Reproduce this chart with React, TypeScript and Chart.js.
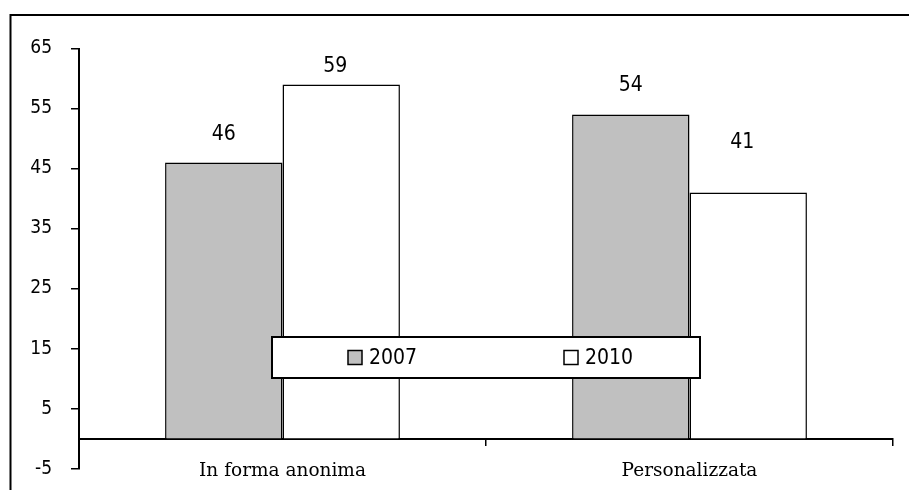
import React, { useEffect, useRef } from "react";
import { Chart, registerables } from "chart.js";

Chart.register(...registerables);

const categories = ["In forma anonima", "Personalizzata"];
const seriesNames = ["2007", "2010"];
const values2007 = [46, 54];
const values2010 = [59, 41];
const yTicks = [-5, 5, 15, 25, 35, 45, 55, 65];

const seriesFill = ["#C0C0C0", "#FFFFFF"];
const NUM_FONT = '"DejaVu Sans Condensed", "Liberation Sans Narrow", sans-serif';
const CAT_FONT = '"DejaVu Serif", serif';
// per-bar label shift [dataset][category] = [dx, lift above bar top]
const labelShift = [
  [[0, 28], [0, 29]],
  [[-6, 18], [-6, 50]],
];

const framePlugin = {
  id: "frame",
  beforeDraw(chart: any) {
    const { ctx, width, height } = chart;
    ctx.save();
    ctx.fillStyle = "#FFFFFF";
    ctx.fillRect(0, 0, width, height);
    ctx.restore();
  },
  afterDraw(chart: any) {
    const { ctx } = chart;
    ctx.save();
    ctx.strokeStyle = "#000000";
    ctx.lineWidth = 2;
    ctx.strokeRect(10.5, 15, 3000, 3000);
    ctx.restore();
  },
};

const valueLabelPlugin = {
  id: "valueLabels",
  afterDatasetsDraw(chart: any) {
    const { ctx } = chart;
    ctx.save();
    ctx.font = `21px ${NUM_FONT}`;
    ctx.fillStyle = "#000000";
    ctx.textAlign = "center";
    ctx.textBaseline = "middle";
    chart.data.datasets.forEach((ds: any, di: number) => {
      const meta = chart.getDatasetMeta(di);
      meta.data.forEach((el: any, i: number) => {
        const [dx, lift] = labelShift[di][i];
        ctx.fillText(String(ds.data[i]), el.x + dx, el.y - lift);
      });
    });
    ctx.restore();
  },
};

const legendBoxPlugin = {
  id: "legendBox",
  afterDraw(chart: any) {
    const { ctx, chartArea } = chart;
    const bx = chartArea.left + 193;
    const by = 337;
    const bw = 428;
    const bh = 41;
    ctx.save();
    ctx.fillStyle = "#FFFFFF";
    ctx.fillRect(bx, by, bw, bh);
    ctx.strokeStyle = "#000000";
    ctx.lineWidth = 2;
    ctx.strokeRect(bx, by, bw, bh);
    const itemX = [bx + 76, bx + 292];
    const cy = by + bh / 2;
    ctx.font = `21px ${NUM_FONT}`;
    ctx.textAlign = "left";
    ctx.textBaseline = "middle";
    seriesNames.forEach((name, i) => {
      ctx.fillStyle = seriesFill[i];
      ctx.fillRect(itemX[i], cy - 7, 14, 14);
      ctx.lineWidth = 1.5;
      ctx.strokeStyle = "#000000";
      ctx.strokeRect(itemX[i], cy - 7, 14, 14);
      ctx.fillStyle = "#000000";
      ctx.fillText(name, itemX[i] + 21, cy + 1);
    });
    ctx.restore();
  },
};

const CANVAS_W = 909;
const CANVAS_H = 499;

export default function App() {
  const canvasRef = useRef<HTMLCanvasElement | null>(null);

  useEffect(() => {
    const canvas = canvasRef.current;
    if (!canvas) return;
    const chart = new Chart(canvas, {
      type: "bar",
      data: {
        labels: categories,
        datasets: [
          {
            label: seriesNames[0],
            data: values2007,
            backgroundColor: seriesFill[0],
            borderColor: "#000000",
            borderWidth: 1.5,
            categoryPercentage: 0.577,
            barPercentage: 1,
          },
          {
            label: seriesNames[1],
            data: values2010,
            backgroundColor: seriesFill[1],
            borderColor: "#000000",
            borderWidth: 1.5,
            categoryPercentage: 0.577,
            barPercentage: 1,
          },
        ],
      },
      options: {
        responsive: false,
        animation: false,
        devicePixelRatio: 1,
        layout: { padding: { top: 48.5, bottom: 13, left: 0, right: 16 } },
        plugins: {
          legend: { display: false },
          tooltip: { enabled: false },
          title: { display: false },
        },
        scales: {
          x: {
            type: "category",
            position: { y: 0 } as any,
            offset: true,
            grid: {
              offset: true,
              drawOnChartArea: false,
              drawTicks: true,
              tickLength: 6,
              color: "#000000",
              lineWidth: 1.5,
            },
            border: { display: true, color: "#000000", width: 2 },
            ticks: {
              color: "#000000",
              font: { family: CAT_FONT, size: 18.5 },
              padding: 15,
              maxRotation: 0,
              autoSkip: false,
            },
            afterFit: (scale: any) => {
              scale.height = 0;
            },
          },
          y: {
            type: "linear",
            min: -5,
            max: 65,
            afterBuildTicks: (scale: any) => {
              scale.ticks = yTicks.map((v) => ({ value: v }));
            },
            grid: {
              drawOnChartArea: false,
              drawTicks: true,
              tickLength: 8,
              color: "#000000",
              lineWidth: 1.5,
            },
            border: { display: true, color: "#000000", width: 2 },
            ticks: {
              color: "#000000",
              font: { family: NUM_FONT, size: 19 },
              padding: 19,
            },
            afterFit: (scale: any) => {
              scale.width = 79;
            },
          },
        },
      },
      plugins: [framePlugin, valueLabelPlugin, legendBoxPlugin],
    });
    return () => chart.destroy();
  }, []);

  return (
    <div style={{ position: "fixed", left: 0, top: 0, width: 909, height: 490, overflow: "hidden", background: "#FFFFFF" }}>
      <canvas
        ref={canvasRef}
        width={CANVAS_W}
        height={CANVAS_H}
        style={{ display: "block", width: CANVAS_W, height: CANVAS_H }}
      />
    </div>
  );
}
